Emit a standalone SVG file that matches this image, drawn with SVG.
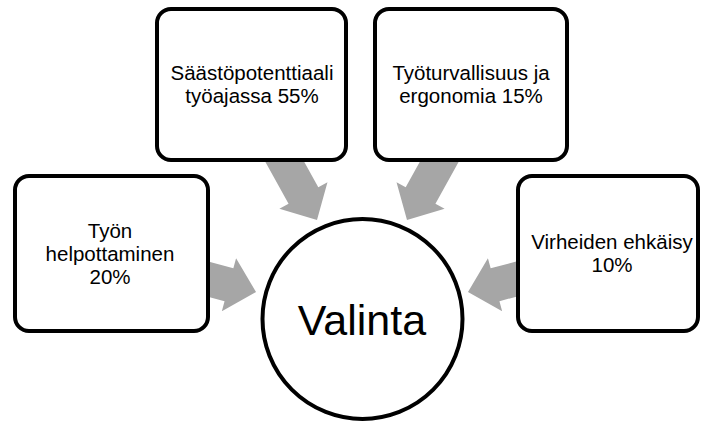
<svg xmlns="http://www.w3.org/2000/svg" width="702" height="421" viewBox="0 0 702 421">
  <defs>
    <!-- block arrow pointing along +x, tip at the origin -->
    <path id="blockArrow" d="M -80,-17 L -28,-17 L -28,-27.5 L 0,0 L -28,27.5 L -28,17 L -80,17 Z"/>
  </defs>
  <style>
    .arrow { fill: #a6a6a6; stroke: none; }
    .box { fill: #ffffff; stroke: #000000; stroke-width: 4; }
    .label { font-family: "Liberation Sans", Arial, sans-serif; font-size: 20.5px; fill: #000000; text-anchor: middle; }
    .hub { font-family: "Liberation Sans", Arial, sans-serif; font-size: 43px; fill: #000000; text-anchor: middle; }
  </style>
  <rect width="702" height="421" fill="#ffffff"/>

  <!-- connectors: gray block arrows pointing at the central circle -->
  <g id="connectors">
    <use href="#blockArrow" class="arrow" transform="translate(317,220) rotate(61)"/>
    <use href="#blockArrow" class="arrow" transform="translate(407,220) rotate(119)"/>
    <use href="#blockArrow" class="arrow" transform="translate(256,292) rotate(15)"/>
    <use href="#blockArrow" class="arrow" transform="translate(468,292) rotate(165)"/>
  </g>

  <g id="node-saastopotentiaali">
    <rect class="box" x="157" y="9" width="189" height="151" rx="14"/>
    <text class="label" x="252" y="79.5">Säästöpotenttiaali</text>
    <text class="label" x="252" y="102.5">työajassa 55%</text>
  </g>

  <g id="node-tyoturvallisuus">
    <rect class="box" x="375" y="9" width="192" height="151" rx="14"/>
    <text class="label" x="471" y="79.5">Työturvallisuus ja</text>
    <text class="label" x="471" y="102.5">ergonomia 15%</text>
  </g>

  <g id="node-tyon-helpottaminen">
    <rect class="box" x="15" y="176" width="193" height="155" rx="14"/>
    <text class="label" x="110" y="237.5">Työn</text>
    <text class="label" x="110" y="260.5">helpottaminen</text>
    <text class="label" x="110" y="283.5">20%</text>
  </g>

  <g id="node-virheiden-ehkaisy">
    <rect class="box" x="518" y="176" width="180" height="155" rx="14"/>
    <text class="label" x="612" y="248.5">Virheiden ehkäisy</text>
    <text class="label" x="612" y="271.5">10%</text>
  </g>

  <g id="node-valinta">
    <circle class="box" cx="362.5" cy="319" r="100"/>
    <text class="hub" x="362" y="335">Valinta</text>
  </g>
</svg>
